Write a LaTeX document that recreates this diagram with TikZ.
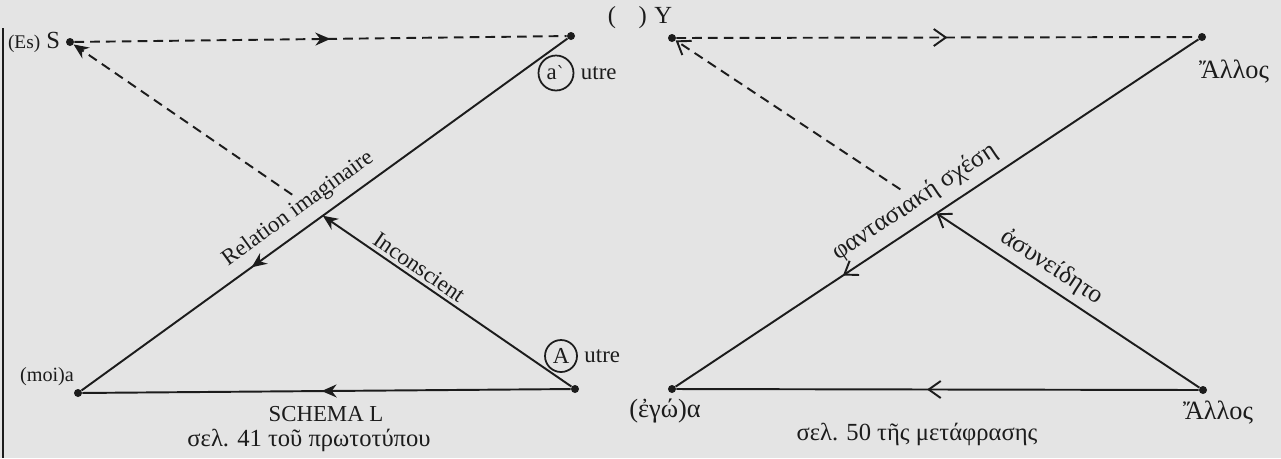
\documentclass[tikz,border=0pt]{standalone}
\usepackage{fontspec}
\setmainfont{Liberation Serif}
\newfontfamily\djv{DejaVu Serif}
\usepackage{tikz}
\usetikzlibrary{positioning,arrows.meta,calc,decorations.markings}
\definecolor{paper}{RGB}{228,228,228}
\definecolor{ink}{RGB}{28,28,28}
\tikzset{
  pt/.style={circle,fill=ink,inner sep=0pt,minimum size=1.6mm},
  lbl/.style={inner sep=1pt,text=ink,font=\fontsize{13}{15}\selectfont},
  grk/.style={inner sep=1pt,text=ink,font=\fontsize{14.5}{16}\selectfont},
  circlbl/.style={circle,draw=ink,line width=1pt,inner sep=0pt,text=ink,font=\fontsize{13}{15}\selectfont},
  solid line/.style={draw=ink,line width=1.1pt},
  dash line/.style={draw=ink,line width=1.1pt,dash pattern=on 5.5pt off 3.5pt},
  fill tip/.style={-{Stealth[length=3mm,width=2.6mm]}},
  open tip/.style={-{Straight Barb[length=2.4mm,width=3.4mm]}},
  midfill/.style={postaction={decorate},decoration={markings,mark=at position #1 with {\arrow{Stealth[length=3mm,width=2.6mm]}}}},
  midopen/.style={postaction={decorate},decoration={markings,mark=at position #1 with {\arrow{Straight Barb[length=2.4mm,width=3.4mm]}}}}
}

\begin{document}
\begin{tikzpicture}[x=0.02cm,y=-0.02cm,node distance=1mm]
  \fill[paper] (0,0) rectangle (1281,458);
  \useasboundingbox (0,0) rectangle (1281,458);
  \draw[ink,line width=1pt] (3,28) -- (3,458);

  \node[pt] (S) at (70,42) {};
  \node[pt] (autre) at (571,36) {};
  \node[pt] (moi) at (78,393) {};
  \node[pt] (Autre) at (575,389) {};
  \coordinate (xL) at (intersection of Autre--S and autre--moi);
  \coordinate (dL) at ($(Autre)!0.56!(S)$);

  \node[lbl,left=0.7mm of S,font=\fontsize{14}{16}\selectfont] (Slab) {{\fontsize{11}{12}\selectfont(Es)} S};
  \node[lbl,font=\fontsize{11.5}{13}\selectfont] (moilab) at (47,377) {(moi)a};
  \node[circlbl,minimum size=7mm] (ca) at (556,73) {a{\djv\fontsize{10}{12}\selectfont ˋ}};
  \node[lbl,right=0.9mm of ca] (calab) {utre};
  \node[circlbl,minimum size=6.4mm] (cA) at (561,356) {A};
  \node[lbl,right=0.9mm of cA] (cAlab) {utre};
  \node[lbl] (schema) at (326,414) {SCHEMA L};
  \node[grk,font=\fontsize{14}{16}\selectfont] (origp) at (309,440) {σελ. 41 τοῦ πρωτοτύπου};

  \draw[dash line,midfill=0.52] (S) -- (autre);
  \draw[dash line,fill tip] (dL) -- (S);
  \draw[solid line,midfill=0.65] (autre) -- node[lbl,sloped,above=4pt,pos=0.53] {Relation imaginaire} (moi);
  \draw[solid line,fill tip] (Autre) -- node[lbl,sloped,above=1pt,pos=0.64] {Inconscient} (xL);
  \draw[solid line,midfill=0.51] (Autre) -- (moi);

  \node[pt] (Y) at (672,38) {};
  \node[pt] (allosT) at (1202,37) {};
  \node[pt] (ego) at (672,389) {};
  \node[pt] (allosB) at (1203,390) {};
  \coordinate (xR) at (intersection of allosB--Y and allosT--ego);
  \coordinate (dR) at ($(allosB)!0.57!(Y)$);

  \node[lbl,font=\fontsize{14}{16}\selectfont] (Ylab) at (640,18) {(\hspace{4.5mm})\hspace{1.5mm}Y};
  \node[grk,font=\fontsize{15}{17}\selectfont] (allosTlab) at (1234,72) {Ἄλλος};
  \node[grk,font=\fontsize{15}{17}\selectfont] (egolab) at (665,411) {(ἐγώ)α};
  \node[grk,font=\fontsize{15}{17}\selectfont] (allosBlab) at (1218,413) {Ἄλλος};
  \node[grk,font=\fontsize{14}{16}\selectfont] (transp) at (917,434) {σελ. 50 τῆς μετάφρασης};

  \draw[dash line,midopen=0.52] (Y) -- (allosT);
  \draw[dash line,open tip] (dR) -- (Y);
  \draw[solid line,midopen=0.68] (allosT) -- node[grk,sloped,above=4pt,pos=0.52] {φαντασιακή σχέση} (ego);
  \draw[solid line,open tip] (allosB) -- node[grk,sloped,above=2.5pt,pos=0.6] {ἀσυνείδητο} (xR);
  \draw[solid line,midopen=0.52] (allosB) -- (ego);
\end{tikzpicture}
\end{document}
